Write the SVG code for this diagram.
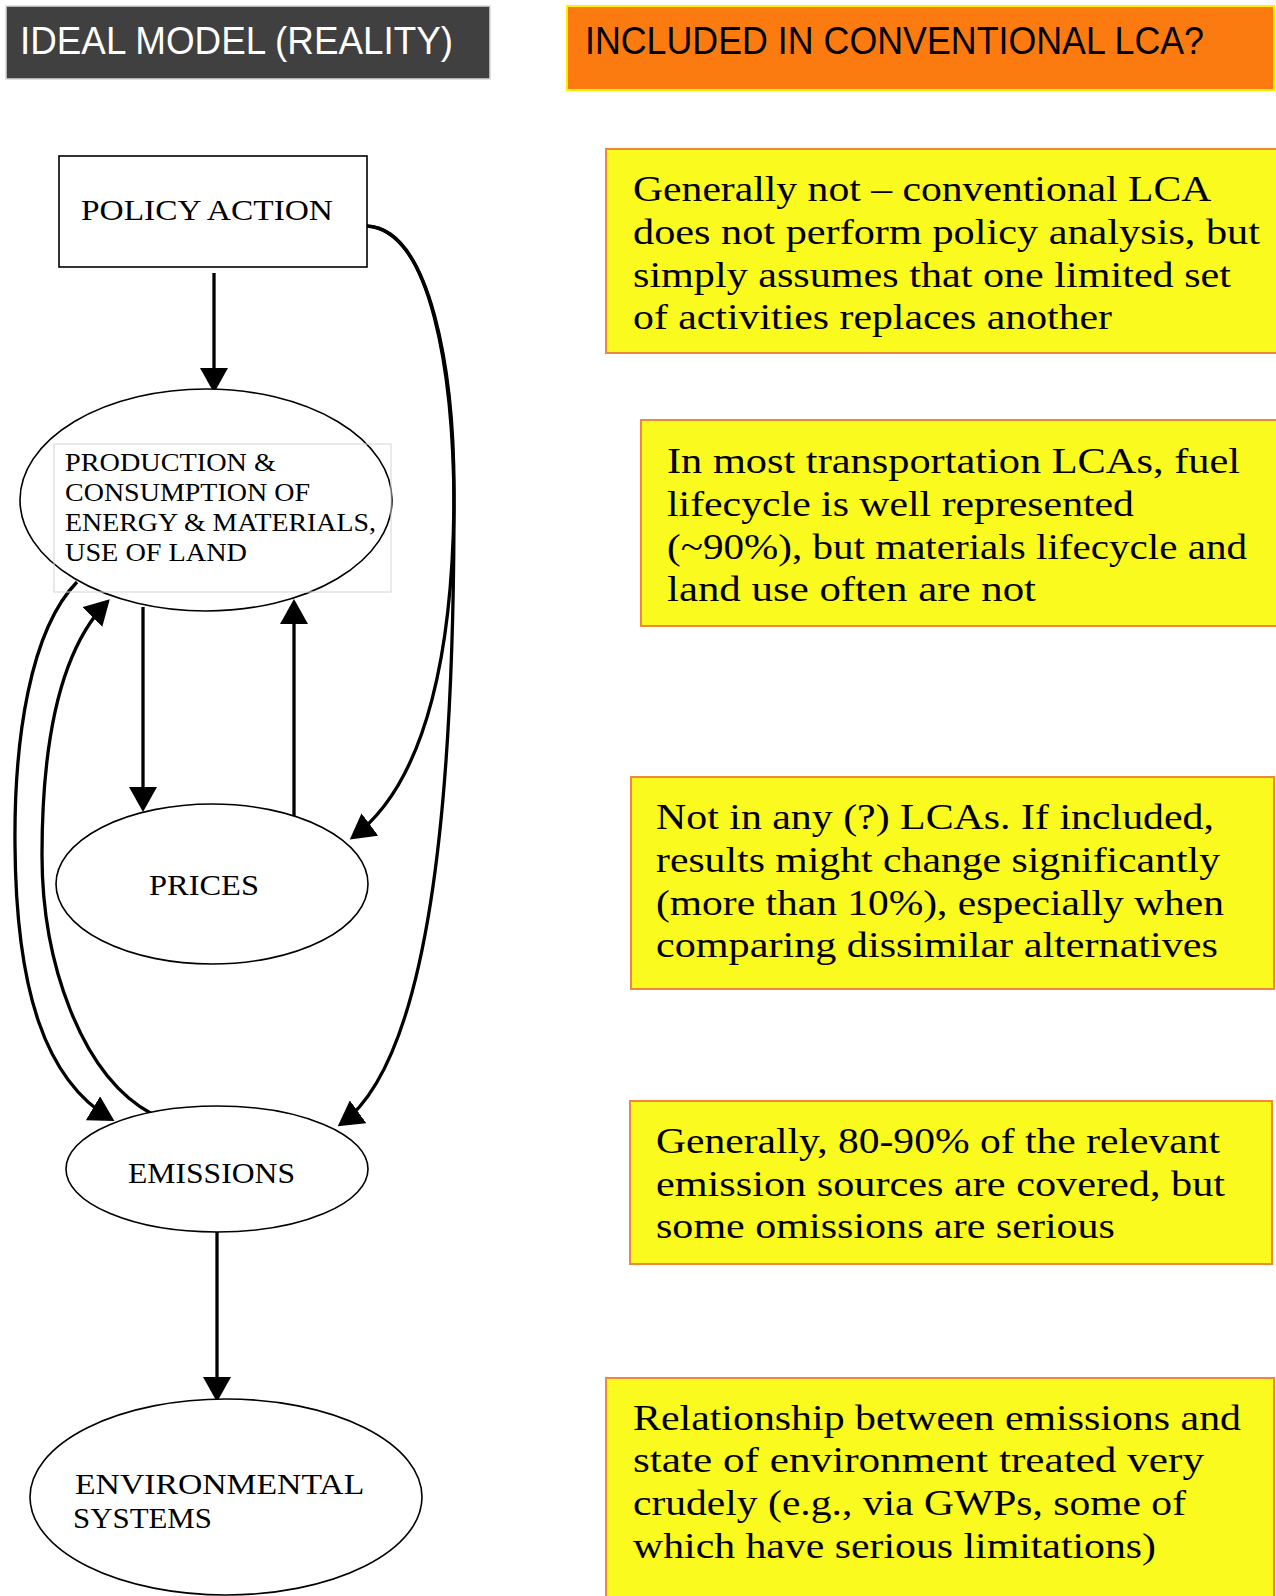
<svg xmlns="http://www.w3.org/2000/svg" width="1276" height="1596" viewBox="0 0 1276 1596">
<defs>
<style>
.hdr{font-family:"Liberation Sans",Arial,sans-serif;font-size:38px}
.nt{font-family:"Liberation Serif","Times New Roman",serif;fill:#000}
.bt{font-family:"Liberation Serif","Times New Roman",serif;font-size:36px;fill:#000}
.node{fill:#fff;stroke:#000;stroke-width:1.6}
.note{fill:#FAFA1E;stroke:#F0883A;stroke-width:2}
.edge{fill:none;stroke:#000;stroke-width:3.3}
</style>
<marker id="ah" markerUnits="userSpaceOnUse" markerWidth="25" markerHeight="28" viewBox="0 0 25 28" refX="21" refY="14" orient="auto">
<path d="M0,0 L25,14 L0,28 z" fill="#000"/>
</marker>
</defs>
<rect width="1276" height="1596" fill="#fff"/>

<g id="header-ideal">
<rect x="6" y="6" width="484" height="73" fill="#404040" stroke="#d8d8d8" stroke-width="1.5"/>
<text class="hdr" x="20" y="54" fill="#fff" textLength="433" lengthAdjust="spacingAndGlyphs">IDEAL MODEL (REALITY)</text>
</g>
<g id="header-lca">
<rect x="567" y="6" width="707" height="84" fill="#FC7B10" stroke="#FFF000" stroke-width="2"/>
<text class="hdr" x="585" y="54" fill="#000" textLength="619" lengthAdjust="spacingAndGlyphs">INCLUDED IN CONVENTIONAL LCA?</text>
</g>

<g id="connectors">
<path class="edge" d="M214,273 L214,389" marker-end="url(#ah)"/>
<path class="edge" d="M143,607 L143,808" marker-end="url(#ah)"/>
<path class="edge" d="M294,816 L294,603" marker-end="url(#ah)"/>
<path class="edge" d="M366,226 C430,228 455,370 454,500 C453,640 430,780 353,837" marker-end="url(#ah)"/>
<path class="edge" d="M366,226 C430,228 455,370 454,520 C453,800 430,1060 341,1124" marker-end="url(#ah)"/>
<path class="edge" d="M77,582 C30,630 14,740 15,845 C16,990 45,1080 111,1119" marker-end="url(#ah)"/>
<path class="edge" d="M152,1114 C80,1075 42,960 42,855 C42,740 60,650 107,602" marker-end="url(#ah)"/>
<path class="edge" d="M217,1232 L217,1398" marker-end="url(#ah)"/>
</g>

<g id="node-policy">
<rect class="node" x="59" y="156" width="308" height="111"/>
<text class="nt" x="81" y="220" font-size="29" textLength="252" lengthAdjust="spacingAndGlyphs">POLICY ACTION</text>
</g>

<g id="node-production">
<ellipse class="node" cx="206" cy="500" rx="186" ry="111" fill="none"/>
<rect x="54" y="444" width="337" height="148" fill="none" stroke="#d4d4d4" stroke-width="1"/>
<text class="nt" font-size="25">
<tspan x="65" y="471" textLength="211" lengthAdjust="spacingAndGlyphs">PRODUCTION &amp;</tspan>
<tspan x="65" y="501" textLength="245" lengthAdjust="spacingAndGlyphs">CONSUMPTION OF</tspan>
<tspan x="65" y="531" textLength="311" lengthAdjust="spacingAndGlyphs">ENERGY &amp; MATERIALS,</tspan>
<tspan x="65" y="561" textLength="182" lengthAdjust="spacingAndGlyphs">USE OF LAND</tspan>
</text>
</g>

<g id="node-prices">
<ellipse class="node" cx="212" cy="884" rx="156" ry="80"/>
<text class="nt" x="149" y="895" font-size="29" textLength="110" lengthAdjust="spacingAndGlyphs">PRICES</text>
</g>

<g id="node-emissions">
<ellipse class="node" cx="217" cy="1169" rx="151" ry="63"/>
<text class="nt" x="128" y="1183" font-size="29" textLength="167" lengthAdjust="spacingAndGlyphs">EMISSIONS</text>
</g>

<g id="node-environment">
<ellipse class="node" cx="226" cy="1497" rx="196" ry="98"/>
<text class="nt" font-size="29">
<tspan x="75" y="1494" textLength="288" lengthAdjust="spacingAndGlyphs">ENVIRONMENTAL</tspan>
<tspan x="73" y="1528" textLength="139" lengthAdjust="spacingAndGlyphs">SYSTEMS</tspan>
</text>
</g>

<g id="note-policy">
<rect class="note" x="606" y="149" width="672" height="204"/>
<text class="bt">
<tspan x="633" y="201" textLength="576" lengthAdjust="spacingAndGlyphs">Generally not – conventional LCA</tspan>
<tspan x="633" y="244" textLength="627" lengthAdjust="spacingAndGlyphs">does not perform policy analysis, but</tspan>
<tspan x="633" y="287" textLength="598" lengthAdjust="spacingAndGlyphs">simply assumes that one limited set</tspan>
<tspan x="633" y="329" textLength="479" lengthAdjust="spacingAndGlyphs">of activities replaces another</tspan>
</text>
</g>

<g id="note-production">
<rect class="note" x="641" y="420" width="637" height="206"/>
<text class="bt">
<tspan x="667" y="473" textLength="573" lengthAdjust="spacingAndGlyphs">In most transportation LCAs, fuel</tspan>
<tspan x="667" y="516" textLength="467" lengthAdjust="spacingAndGlyphs">lifecycle is well represented</tspan>
<tspan x="667" y="559" textLength="580" lengthAdjust="spacingAndGlyphs">(~90%), but materials lifecycle and</tspan>
<tspan x="667" y="601" textLength="369" lengthAdjust="spacingAndGlyphs">land use often are not</tspan>
</text>
</g>

<g id="note-prices">
<rect class="note" x="631" y="777" width="643" height="212"/>
<text class="bt">
<tspan x="656" y="829" textLength="558" lengthAdjust="spacingAndGlyphs">Not in any (?) LCAs. If included,</tspan>
<tspan x="656" y="872" textLength="564" lengthAdjust="spacingAndGlyphs">results might change significantly</tspan>
<tspan x="656" y="915" textLength="568" lengthAdjust="spacingAndGlyphs">(more than 10%), especially when</tspan>
<tspan x="656" y="957" textLength="562" lengthAdjust="spacingAndGlyphs">comparing dissimilar alternatives</tspan>
</text>
</g>

<g id="note-emissions">
<rect class="note" x="630" y="1101" width="642" height="163"/>
<text class="bt">
<tspan x="656" y="1153" textLength="564" lengthAdjust="spacingAndGlyphs">Generally, 80-90% of the relevant</tspan>
<tspan x="656" y="1196" textLength="569" lengthAdjust="spacingAndGlyphs">emission sources are covered, but</tspan>
<tspan x="656" y="1238" textLength="459" lengthAdjust="spacingAndGlyphs">some omissions are serious</tspan>
</text>
</g>

<g id="note-environment">
<rect class="note" x="606" y="1378" width="668" height="222"/>
<text class="bt">
<tspan x="633" y="1430" textLength="608" lengthAdjust="spacingAndGlyphs">Relationship between emissions and</tspan>
<tspan x="633" y="1472" textLength="571" lengthAdjust="spacingAndGlyphs">state of environment treated very</tspan>
<tspan x="633" y="1515" textLength="553" lengthAdjust="spacingAndGlyphs">crudely (e.g., via GWPs, some of</tspan>
<tspan x="633" y="1558" textLength="523" lengthAdjust="spacingAndGlyphs">which have serious limitations)</tspan>
</text>
</g>
</svg>
